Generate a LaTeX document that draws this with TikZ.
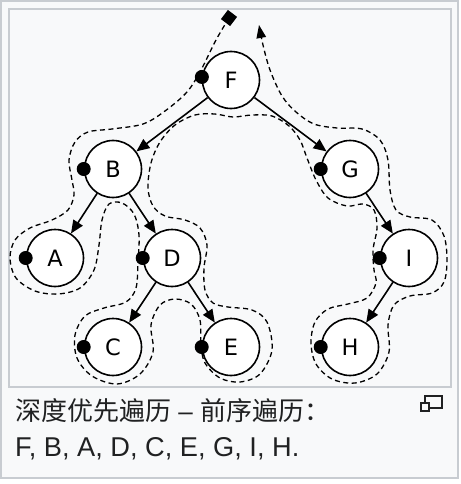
\documentclass[tikz,border=0pt]{standalone}
\usepackage{fontspec}
\setmainfont{DejaVu Sans}
\newfontfamily\capfont{Liberation Sans}
\newfontfamily\cjkfont{Noto Sans CJK SC}
\usetikzlibrary{arrows.meta}
\definecolor{framegray}{HTML}{C8CCD1}
\definecolor{bgcol}{HTML}{F8F9FA}
\definecolor{txt}{HTML}{202122}
\begin{document}
\begin{tikzpicture}[x=1pt,y=-1pt,
  treenode/.style={circle, draw=black, fill=white, line width=1.6pt, minimum size=57pt, inner sep=0pt, font=\fontsize{22.5}{27}\selectfont},
  edge/.style={line width=1.6pt, -{Triangle[length=13pt,width=11pt]}},
  route/.style={line width=1.3pt, dash pattern=on 5pt off 3.5pt},
  dot/.style={circle, fill=black, minimum size=14pt, inner sep=0pt},
  captext/.style={anchor=base west, inner sep=0pt, text=txt}]
\useasboundingbox (0,0) rectangle (460,484);
\fill[white] (0,0) rectangle (460,484);
% outer frame
\draw[framegray, fill=bgcol, line width=2pt] (1,1) rectangle (458,478);
% inner frame
\draw[framegray, fill=bgcol, line width=1.5pt] (9,9) rectangle (451,387);

% traversal route
\draw[route, -{Triangle[length=13pt,width=9.5pt]}] plot[smooth, tension=0.55] coordinates {
(229,18) (216,40) (201,70) (187,92) (165,111) (143,124) (112,129) (88,132)
(75,142) (69,160) (72,180) (74,195) (68,210) (52,220) (30,228) (15,240)
(10,258) (16,278) (35,291) (58,294) (80,288) (94,270) (99,245) (102,220)
(109,204) (122,203) (134,214) (139,235) (138,262) (136,288) (126,302) (104,308)
(85,316) (75,335) (77,358) (92,376) (117,384) (140,374) (153,352) (151,325)
(160,305) (175,299) (191,304) (200,320) (201,345) (205,363) (220,378) (240,382)
(260,374) (272,350) (267,322) (252,310) (228,307) (213,303) (205,290) (204,268)
(207,245) (200,228) (185,220) (165,216) (153,206) (148,188) (151,163) (160,142)
(175,125) (195,115) (215,114) (233,117) (252,115) (272,116) (289,126) (300,140)
(307,158) (316,180) (328,198) (347,206) (363,204) (374,210) (377,228) (373,250)
(374,270) (376,283) (367,298) (348,304) (328,309) (315,322) (311,343) (316,364)
(332,379) (355,383) (377,374) (389,352) (388,325) (394,305) (410,296) (432,293)
(444,282) (447,260) (444,236) (432,220) (410,217) (396,210) (390,190) (388,160)
(380,140) (362,129) (337,128) (314,124) (296,112) (282,96) (270,70) (263,45) (259,25)};
\node[fill=black, minimum size=11.5pt, inner sep=0pt, rotate=-37] (start) at (229,18) {};

% tree nodes
\node[treenode] (F) at (231,80) {F};
\node[treenode] (B) at (113,169) {B};
\node[treenode] (G) at (350,169) {G};
\node[treenode] (A) at (55,258) {A};
\node[treenode] (D) at (172,258) {D};
\node[treenode] (I) at (409,258) {I};
\node[treenode] (C) at (113,347) {C};
\node[treenode] (E) at (231,347) {E};
\node[treenode] (H) at (350,347) {H};

% edges
\draw[edge] (F) -- (B);
\draw[edge] (F) -- (G);
\draw[edge] (B) -- (A);
\draw[edge] (B) -- (D);
\draw[edge] (D) -- (C);
\draw[edge] (D) -- (E);
\draw[edge] (G) -- (I);
\draw[edge] (I) -- (H);

% visit dots
\node[dot] (dF) at (F.174) {};
\node[dot] (dB) at (B.west) {};
\node[dot] (dG) at (G.west) {};
\node[dot] (dA) at (A.west) {};
\node[dot] (dD) at (D.west) {};
\node[dot] (dI) at (I.west) {};
\node[dot] (dC) at (C.west) {};
\node[dot] (dE) at (E.west) {};
\node[dot] (dH) at (H.west) {};

% caption
\node[captext, font=\cjkfont\fontsize{26}{30}\selectfont] (cap1) at (15,420) {深度优先遍历{\capfont\ – }前序遍历：};
\node[captext, font=\capfont\fontsize{27.2}{30}\selectfont] (cap2) at (15,456) {F, B, A, D, C, E, G, I, H.};

% enlarge icon
\draw[txt, line width=1.3pt, fill=bgcol] (425,396) rectangle (442,408);
\draw[txt, line width=1.3pt, fill=bgcol] (421,403) rectangle (429,411);
\end{tikzpicture}
\end{document}
